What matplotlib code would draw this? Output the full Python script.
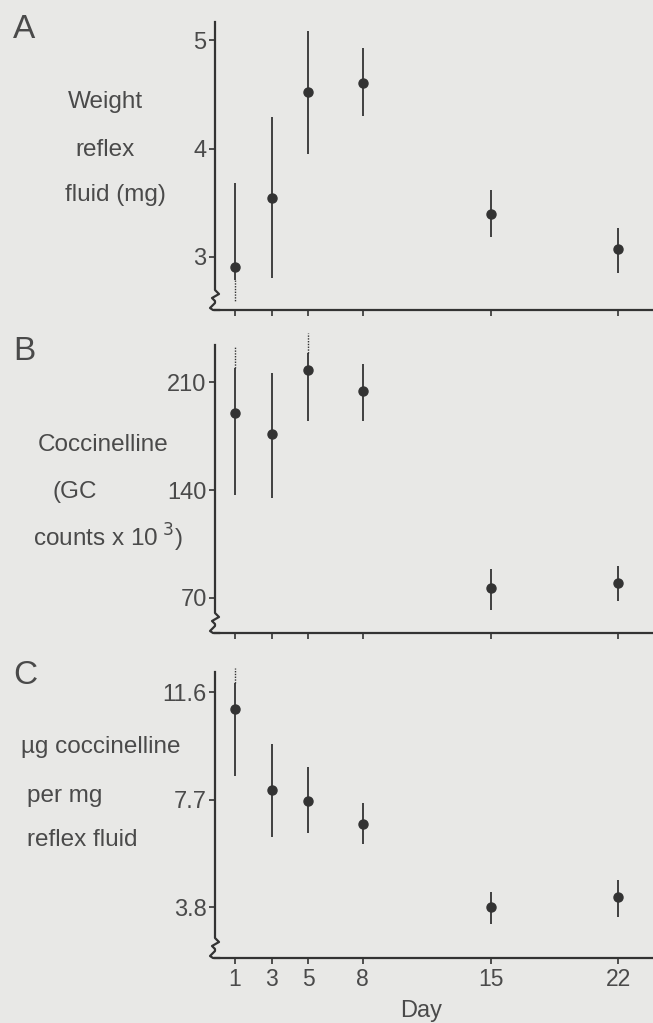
import matplotlib
matplotlib.use("Agg")
import matplotlib.pyplot as plt
from matplotlib.lines import Line2D

plt.rcParams['font.family'] = ['Liberation Sans', 'DejaVu Sans']

days = [1, 3, 5, 8, 15, 22]
day_labels = ["1", "3", "5", "8", "15", "22"]

# Panel A: weight of reflex fluid (mg)
A_mean = [2.91, 3.54, 4.52, 4.61, 3.40, 3.07]
A_lo = [2.79, 2.81, 3.95, 4.30, 3.18, 2.85]
A_hi = [3.68, 4.29, 5.09, 4.93, 3.62, 3.27]
A_dot_x = [1]
A_dot_from = [2.79]
A_dot_to = [2.59]
A_ticks = [3, 4, 5]
A_ticklabels = ["3", "4", "5"]

# Panel B: coccinelline (GC counts x 10^3)
B_mean = [190, 176, 218, 204, 76.5, 80]
B_lo = [137, 135, 185, 185, 62, 68]
B_hi = [219, 216, 229, 222, 89, 91]
B_dot_x = [1, 5]
B_dot_from = [219, 229]
B_dot_to = [233, 242]
B_ticks = [70, 140, 210]
B_ticklabels = ["70", "140", "210"]

# Panel C: ug coccinelline per mg reflex fluid
C_mean = [10.98, 8.04, 7.64, 6.81, 3.80, 4.16]
C_lo = [8.55, 6.34, 6.48, 6.09, 3.18, 3.44]
C_hi = [11.93, 9.71, 8.88, 7.57, 4.34, 4.78]
C_dot_x = [1]
C_dot_from = [11.93]
C_dot_to = [12.47]
C_ticks = [3.8, 7.7, 11.6]
C_ticklabels = ["3.8", "7.7", "11.6"]

BG = '#e8e8e6'
INK = '#333333'
TXT = '#4a4a4a'

W, H = 653, 1023
fig = plt.figure(figsize=(W / 100, H / 100), dpi=100, facecolor=BG)

def fx(px):
    return px / W

def fy(py):
    return 1 - py / H

panels = [
    dict(top=22, bot=310, mean=A_mean, lo=A_lo, hi=A_hi, dx=A_dot_x, df=A_dot_from, dt=A_dot_to,
         ylim=(2.51, 5.17), ticks=A_ticks, tl=A_ticklabels, letter="A", ly=29,
         labels=[("Weight", 68, 102), ("reflex", 75, 150), ("fluid (mg)", 65, 195)]),
    dict(top=345, bot=633, mean=B_mean, lo=B_lo, hi=B_hi, dx=B_dot_x, df=B_dot_from, dt=B_dot_to,
         ylim=(47.3, 234), ticks=B_ticks, tl=B_ticklabels, letter="B", ly=352,
         labels=[("Coccinelline", 38, 445), ("(GC", 53, 492), ("counts x 10$^{\\ 3}$)", 33, 538)]),
    dict(top=672, bot=958, mean=C_mean, lo=C_lo, hi=C_hi, dx=C_dot_x, df=C_dot_from, dt=C_dot_to,
         ylim=(1.95, 12.33), ticks=C_ticks, tl=C_ticklabels, letter="C", ly=675,
         labels=[("\u00b5g coccinelline", 21, 747), ("per mg", 27, 796), ("reflex fluid", 27, 840)]),
]

ax_left = 215
ax_right = 653
for i, p in enumerate(panels):
    hpx = p['bot'] - p['top']
    wpx = ax_right - ax_left
    ax = fig.add_axes([fx(ax_left), fy(p['bot']), wpx / W, hpx / H])
    ax.set_facecolor('none')
    ax.set_xlim(-0.1, 23.9)
    ax.set_ylim(*p['ylim'])
    for s in ['top', 'right', 'left']:
        ax.spines[s].set_visible(False)
    ax.spines['bottom'].set_color(INK)
    ax.spines['bottom'].set_linewidth(1.6)

    yerr = [[m - l for m, l in zip(p['mean'], p['lo'])],
            [h - m for m, h in zip(p['mean'], p['hi'])]]
    ax.errorbar(days, p['mean'], yerr=yerr, fmt='o', color=INK, ecolor=INK,
                elinewidth=1.3, capsize=0, markersize=6.5, clip_on=False, zorder=3)
    ax.vlines(p['dx'], p['df'], p['dt'], colors=INK, linestyles=(0, (1, 1)),
              linewidth=1.0, clip_on=False)

    ax.set_yticks(p['ticks'])
    ax.set_yticklabels(p['tl'])
    ax.set_xticks(days)
    if i == 2:
        ax.set_xticklabels(day_labels)
    else:
        ax.set_xticklabels([])
    ax.tick_params(axis='y', direction='out', length=4, width=1.2, color=INK,
                   labelsize=17, labelcolor=TXT, pad=2)
    ax.tick_params(axis='x', direction='out', length=4, width=1.2, color=INK,
                   labelsize=16.5, labelcolor=TXT, pad=3)

    # custom y-axis line with break symbol (pixel offsets from the lower-left corner)
    pts = [(0, hpx), (0, 20), (4, 16), (-3, 12), (0, 9), (0, 7), (-5, 2), (-2, 0), (4, 0)]
    xs = [px / wpx for px, _ in pts]
    ys = [py / hpx for _, py in pts]
    ax.add_line(Line2D(xs, ys, transform=ax.transAxes, color=INK, linewidth=1.6,
                       clip_on=False, solid_joinstyle='round'))

    fig.text(fx(13), fy(p['ly']), p['letter'], fontsize=24, color=TXT, ha='left', va='center')
    for txt, lx, ly in p['labels']:
        fig.text(fx(lx), fy(ly), txt, fontsize=17.5, color=TXT, ha='left', va='center')

fig.text(fx(421), fy(1011), "Day", fontsize=17, color=TXT, ha='center', va='center')

fig.savefig("out.png", dpi=100, facecolor=BG)
